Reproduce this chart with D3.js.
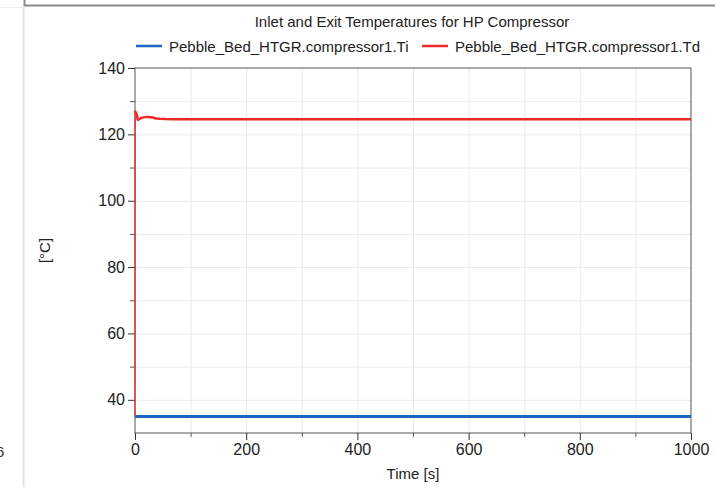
<!DOCTYPE html>
<html>
<head>
<meta charset="utf-8">
<script src="https://cdn.jsdelivr.net/npm/d3@7"></script>
<style>
  body { margin: 0; background: #fff; }
</style>
</head>
<body>
<svg width="715" height="487" font-family="Liberation Sans, Arial, sans-serif"></svg>
<script>
  const title = 'Inlet and Exit Temperatures for HP Compressor';
  const seriesNames = ['Pebble_Bed_HTGR.compressor1.Ti', 'Pebble_Bed_HTGR.compressor1.Td'];
  const seriesColors = ['#1f66c2', '#ee2a2a'];

  // time [s]
  const timeTi = [0, 1000];
  const valuesTi = [35, 35];
  const timeTd = [0, 0.2, 1, 3, 5, 8, 12, 18, 25, 32, 38, 45, 55, 70, 1000];
  const valuesTd = [35, 127.1, 126.6, 126.2, 124.4, 124.6, 125.0, 125.2, 125.2, 125.1, 124.8, 124.7, 124.6, 124.55, 124.55];

  const xTicks = [0, 200, 400, 600, 800, 1000];
  const yTicks = [40, 60, 80, 100, 120, 140];

  const svg = d3.select('svg');
  const margin = { top: 68, right: 24, bottom: 54, left: 135 };
  const width = +svg.attr('width');
  const height = +svg.attr('height');
  const innerWidth = width - margin.left - margin.right;
  const innerHeight = height - margin.top - margin.bottom;

  // window chrome around the plot
  svg.append('line').attr('x1', 23.5).attr('x2', 23.5).attr('y1', 7).attr('y2', height)
    .attr('stroke', '#e4e4e4').attr('stroke-width', 2);
  svg.append('line').attr('x1', 0).attr('x2', 23).attr('y1', 7.5).attr('y2', 7.5)
    .attr('stroke', '#ececec');
  svg.append('path').attr('d', 'M24.5,0V5.5H715').attr('fill', 'none')
    .attr('stroke', '#8a8a8a').attr('stroke-width', 2);
  svg.append('text').attr('x', -4).attr('y', 457).attr('font-size', 15).attr('fill', '#333').text('6');

  const xScale = d3.scaleLinear().domain([0, 1000]).range([0, innerWidth]);
  const yScale = d3.scaleLinear().domain([30, 140]).range([innerHeight, 0]);

  const g = svg.append('g').attr('transform', `translate(${margin.left},${margin.top})`);

  const bare = s => { s.select('.domain').remove(); s.selectAll('text').remove(); };

  // grid
  g.append('g').call(d3.axisBottom(xScale).tickValues(d3.range(100, 1000, 100)).tickSize(innerHeight))
    .call(bare)
    .selectAll('line').attr('stroke', '#ebebeb');
  g.append('g').call(d3.axisLeft(yScale).tickValues(d3.range(40, 140, 10)).tickSize(-innerWidth))
    .call(bare)
    .selectAll('line').attr('stroke', '#ebebeb');

  // frame
  g.append('rect').attr('width', innerWidth).attr('height', innerHeight)
    .attr('fill', 'none').attr('stroke', '#555');

  // minor ticks
  g.append('g').attr('transform', `translate(0,${innerHeight})`)
    .call(d3.axisBottom(xScale).tickValues(d3.range(100, 1000, 200)).tickSize(4))
    .call(bare)
    .selectAll('line').attr('stroke', '#555');
  g.append('g')
    .call(d3.axisLeft(yScale).tickValues(d3.range(50, 140, 20)).tickSize(5))
    .call(bare)
    .selectAll('line').attr('stroke', '#555');

  // major axes
  const xAxisG = g.append('g').attr('transform', `translate(0,${innerHeight})`)
    .call(d3.axisBottom(xScale).tickValues(xTicks).tickFormat(d3.format('d')).tickSize(7).tickPadding(4))
    .attr('font-size', 16).attr('font-family', null);
  xAxisG.select('.domain').remove();
  xAxisG.selectAll('line').attr('stroke', '#333');
  xAxisG.selectAll('text').attr('fill', '#222');

  const yAxisG = g.append('g')
    .call(d3.axisLeft(yScale).tickValues(yTicks).tickFormat(d3.format('d')).tickSize(7).tickPadding(3))
    .attr('font-size', 16).attr('font-family', null);
  yAxisG.select('.domain').remove();
  yAxisG.selectAll('line').attr('stroke', '#333');
  yAxisG.selectAll('text').attr('fill', '#222');

  // lines
  const line = d3.line().x(d => xScale(d[0])).y(d => yScale(d[1]));
  const td = d3.zip(timeTd, valuesTd);
  g.append('path').datum(d3.zip(timeTi, valuesTi))
    .attr('d', line).attr('fill', 'none').attr('stroke', seriesColors[0]).attr('stroke-width', 3);
  // the initial jump renders as a thin vertical stroke in the original
  g.append('path').datum(td.slice(0, 2))
    .attr('d', line).attr('fill', 'none').attr('stroke', seriesColors[1]).attr('stroke-width', 1.3);
  g.append('path').datum(td.slice(1))
    .attr('d', line).attr('fill', 'none').attr('stroke', seriesColors[1]).attr('stroke-width', 2.5)
    .attr('stroke-linejoin', 'round');

  // labels
  svg.append('text').attr('x', 412).attr('y', 27).attr('text-anchor', 'middle')
    .attr('font-size', 15).attr('fill', '#222').text(title);
  svg.append('text').attr('x', margin.left + innerWidth / 2).attr('y', 479).attr('text-anchor', 'middle')
    .attr('font-size', 15).attr('fill', '#222').text('Time [s]');
  svg.append('text').attr('transform', `translate(50,${margin.top + innerHeight / 2}) rotate(-90)`)
    .attr('text-anchor', 'middle').attr('font-size', 15).attr('fill', '#222').text('[°C]');

  // legend
  const legendX = [136, 422];
  const legend = svg.append('g');
  seriesNames.forEach((name, i) => {
    legend.append('line').attr('x1', legendX[i]).attr('x2', legendX[i] + 26)
      .attr('y1', 46).attr('y2', 46).attr('stroke', seriesColors[i]).attr('stroke-width', 2.5);
    legend.append('text').attr('x', legendX[i] + 33).attr('y', 51.5)
      .attr('font-size', 15).attr('fill', '#222').text(name);
  });
</script>
</body>
</html>
